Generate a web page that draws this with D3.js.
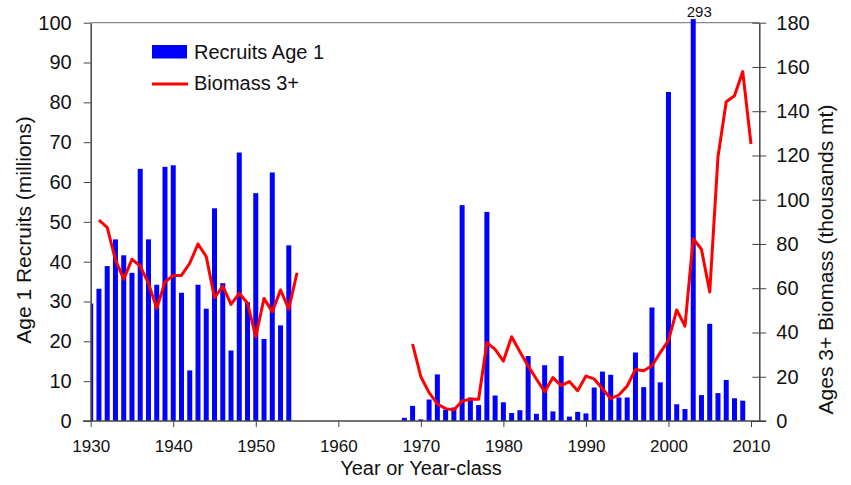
<!DOCTYPE html>
<html>
<head>
<meta charset="utf-8">
<script src="https://cdn.jsdelivr.net/npm/d3@7"></script>
<style>
  body { margin: 0; background: #fff; }
  text { font-family: Arial, "Liberation Sans", sans-serif; fill: #111; }
</style>
</head>
<body>
<svg id="chart" width="851" height="485"></svg>
<script>
// recruits age 1 (millions), by year-class
const recruitYearsEarly = d3.range(1930, 1955);
const recruitsEarly = [29.5, 33.2, 38.9, 45.6, 41.6, 37.2, 63.3, 45.6, 34.2, 63.8,
  64.2, 32.2, 12.7, 34.2, 28.2, 53.4, 34.6, 17.7, 67.4, 29.8,
  57.2, 20.6, 62.4, 24.0, 44.1];
const recruitYearsLate = d3.range(1968, 2010);
const recruitsLate = [0.8, 3.8, 0.4, 5.4, 11.7, 2.8, 3.4, 54.2, 5.9, 4.0,
  52.5, 6.4, 4.7, 2.0, 2.7, 16.3, 1.8, 14.0, 2.4, 16.3,
  1.1, 2.3, 1.9, 8.4, 12.4, 11.6, 5.9, 5.9, 17.2, 8.5,
  28.5, 9.7, 82.6, 4.2, 3.0, 293, 6.5, 24.4, 7.0, 10.3,
  5.7, 5.1];

// biomass ages 3+ (thousands mt)
const biomassYearsEarly = d3.range(1931, 1956);
const biomassEarly = [90.8, 87.5, 72.8, 64.1, 73.1, 70.0, 62.2, 50.9, 62.8, 65.8,
  65.8, 71.3, 80.0, 74.3, 55.7, 61.0, 52.7, 57.7, 53.2, 38.1,
  55.4, 49.4, 59.2, 50.6, 67.0];
const biomassYearsLate = d3.range(1969, 2011);
const biomassLate = [34.8, 20.0, 12.8, 7.7, 5.6, 5.0, 9.0, 9.8, 9.8, 35.4,
  32.4, 27.1, 38.1, 31.3, 24.9, 19.0, 13.2, 19.6, 16.0, 17.8,
  13.7, 20.3, 19.0, 14.6, 10.2, 11.7, 15.8, 23.3, 22.7, 25.0,
  30.9, 36.3, 50.2, 42.9, 82.4, 77.6, 58.3, 119.4, 144.3, 147.0,
  157.9, 125.2];

const xTicks = d3.range(1930, 2011, 10);
const leftTicks = d3.range(0, 101, 10);
const rightTicks = d3.range(0, 181, 20);
const barCap = 100.9; // off-scale bar drawn just past the top, value printed

const svg = d3.select('#chart');
const plotLeft = 90.7, plotRight = 759.3, plotTop = 22.7, plotBottom = 421;

const x = d3.scaleLinear().domain([1930, 2010]).range([plotLeft, 751]);
const yL = d3.scaleLinear().domain([0, 100]).range([plotBottom, plotTop]);
const yR = d3.scaleLinear().domain([0, 180]).range([plotBottom, plotTop]);

svg.append('defs').append('clipPath').attr('id', 'plotClip')
  .append('rect').attr('x', plotLeft).attr('y', 0)
  .attr('width', plotRight - plotLeft).attr('height', plotBottom);

// frame top line
svg.append('line').attr('x1', plotLeft).attr('x2', plotRight)
  .attr('y1', plotTop).attr('y2', plotTop)
  .attr('stroke', '#8a8a8a').attr('stroke-width', 1.3);

const recruits = recruitYearsEarly.map((yr, i) => ({yr, v: recruitsEarly[i]}))
  .concat(recruitYearsLate.map((yr, i) => ({yr, v: recruitsLate[i]})));

const barW = 5;
svg.append('g').attr('clip-path', 'url(#plotClip)')
  .selectAll('rect').data(recruits).enter().append('rect')
  .attr('x', d => x(d.yr) - barW / 2)
  .attr('y', d => yL(Math.min(d.v, barCap)))
  .attr('width', barW)
  .attr('height', d => plotBottom - yL(Math.min(d.v, barCap)))
  .attr('fill', '#0000ff');

svg.selectAll('.offscale').data(recruits.filter(d => d.v > 100)).enter()
  .append('text').attr('class', 'offscale')
  .attr('x', d => x(d.yr) + 6).attr('y', 17)
  .attr('text-anchor', 'middle').attr('font-size', 15)
  .text(d => d.v);

const line = d3.line().x(d => x(d.yr)).y(d => yR(d.v));
[[biomassYearsEarly, biomassEarly], [biomassYearsLate, biomassLate]].forEach(([yrs, vals]) => {
  svg.append('path')
    .datum(yrs.map((yr, i) => ({yr, v: vals[i]})))
    .attr('d', line)
    .attr('fill', 'none').attr('stroke', '#ff0000')
    .attr('stroke-width', 3).attr('stroke-linejoin', 'round');
});

// axes
const axisColor = '#444';
const gx = svg.append('g').attr('transform', `translate(0,${plotBottom})`)
  .call(d3.axisBottom(x).tickValues(xTicks).tickFormat(d3.format('d')).tickSize(6).tickSizeOuter(0));
gx.select('.domain').remove();
gx.append('line').attr('x1', 83).attr('x2', 766).attr('stroke', axisColor).attr('stroke-width', 1.5);
gx.selectAll('.tick line').attr('stroke', axisColor);
gx.selectAll('.tick text').attr('font-size', 17).attr('dy', null).attr('y', 31).attr('fill', '#111');

const gl = svg.append('g').attr('transform', `translate(${plotLeft},0)`)
  .call(d3.axisLeft(yL).tickValues(leftTicks).tickSize(7).tickSizeOuter(0));
gl.select('.domain').attr('stroke', axisColor).attr('stroke-width', 1.5);
gl.selectAll('.tick line').attr('stroke', axisColor);
gl.selectAll('.tick text').attr('font-size', 20).attr('x', -19).attr('fill', '#111');

const gr = svg.append('g').attr('transform', `translate(${plotRight},0)`)
  .call(d3.axisRight(yR).tickValues(rightTicks).tickSize(7).tickSizeOuter(0));
gr.select('.domain').attr('stroke', axisColor).attr('stroke-width', 1.5);
gr.selectAll('.tick line').attr('stroke', axisColor).attr('x1', -7);
gr.selectAll('.tick text').attr('font-size', 20).attr('x', 17).attr('fill', '#111');

// axis titles
svg.append('text').attr('transform', 'translate(31,230) rotate(-90)')
  .attr('text-anchor', 'middle').attr('font-size', 21)
  .text('Age 1 Recruits (millions)');
svg.append('text').attr('transform', 'translate(833,259.5) rotate(-90)')
  .attr('text-anchor', 'middle').attr('font-size', 21)
  .text('Ages 3+ Biomass (thousands mt)');
svg.append('text').attr('x', 421).attr('y', 475)
  .attr('text-anchor', 'middle').attr('font-size', 20)
  .text('Year or Year-class');

// legend
const lg = svg.append('g');
lg.append('rect').attr('x', 152).attr('y', 45).attr('width', 35).attr('height', 13.5).attr('fill', '#0000ff');
lg.append('text').attr('x', 194).attr('y', 59).attr('font-size', 20).text('Recruits Age 1');
lg.append('line').attr('x1', 152).attr('x2', 188).attr('y1', 84).attr('y2', 84)
  .attr('stroke', '#ff0000').attr('stroke-width', 3);
lg.append('text').attr('x', 194).attr('y', 90).attr('font-size', 20).text('Biomass 3+');
</script>
</body>
</html>
